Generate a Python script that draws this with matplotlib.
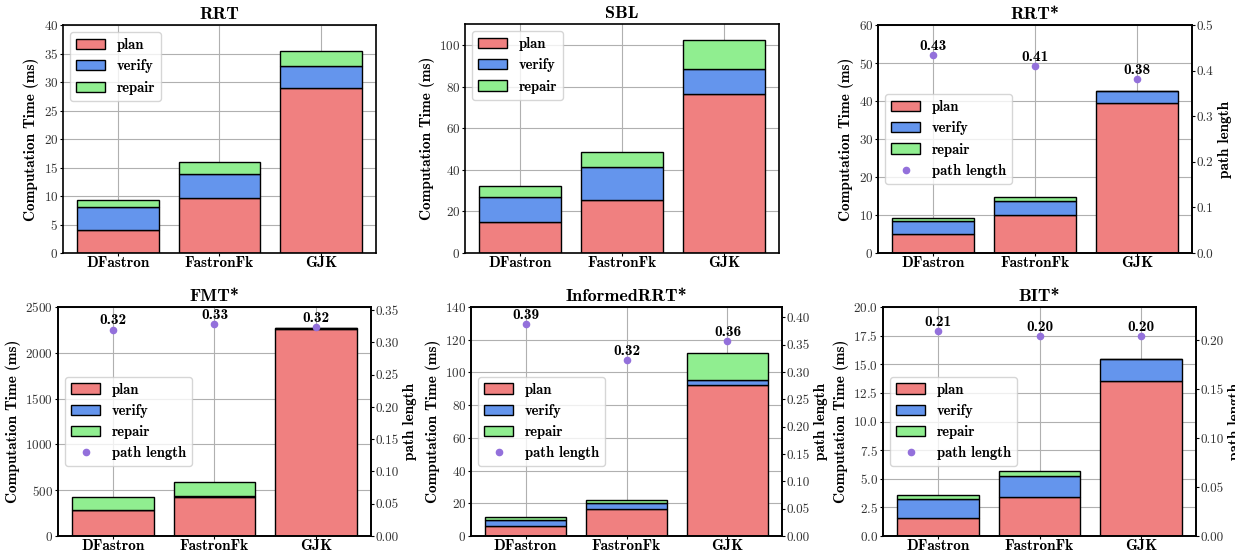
import numpy as np
import matplotlib.pyplot as plt
from matplotlib.patches import Patch
from matplotlib.lines import Line2D

plt.rcParams['font.family'] = 'cmr10'
plt.rcParams['axes.formatter.use_mathtext'] = True
plt.rcParams['axes.linewidth'] = 1.2
plt.rcParams['xtick.major.size'] = 2
plt.rcParams['ytick.major.size'] = 2
plt.rcParams['xtick.major.pad'] = 0.5
plt.rcParams['ytick.major.pad'] = 1.5
BOLD = 'cmb10'

methods = ['DFastron', 'FastronFk', 'GJK']
planners = ['RRT', 'SBL', 'RRT*', 'FMT*', 'InformedRRT*', 'BIT*']

# stacked times (ms) per method: DFastron, FastronFk, GJK
rrt_plan = [3.97, 9.64, 28.96]
rrt_verify = [4.09, 4.20, 3.80]
rrt_repair = [1.17, 2.04, 2.63]

sbl_plan = [14.8, 25.6, 76.8]
sbl_verify = [12.4, 15.8, 11.8]
sbl_repair = [5.0, 7.4, 13.8]

rrtstar_plan = [5.0, 10.1, 39.4]
rrtstar_verify = [3.43, 3.6, 3.2]
rrtstar_repair = [0.79, 0.97, 0.05]
rrtstar_path = [0.434, 0.411, 0.381]

fmt_plan = [285, 428, 2262]
fmt_verify = [4, 4, 5]
fmt_repair = [137, 158, 2]
fmt_path = [0.320, 0.328, 0.324]

informed_plan = [6.3, 16.7, 92.2]
informed_verify = [3.3, 3.3, 2.9]
informed_repair = [1.8, 1.8, 16.9]
informed_path = [0.387, 0.322, 0.356]

bit_plan = [1.60, 3.44, 13.53]
bit_verify = [1.64, 1.81, 1.92]
bit_repair = [0.35, 0.41, 0.0]
bit_path = [0.209, 0.204, 0.204]

data = {
    'RRT': (rrt_plan, rrt_verify, rrt_repair, None),
    'SBL': (sbl_plan, sbl_verify, sbl_repair, None),
    'RRT*': (rrtstar_plan, rrtstar_verify, rrtstar_repair, rrtstar_path),
    'FMT*': (fmt_plan, fmt_verify, fmt_repair, fmt_path),
    'InformedRRT*': (informed_plan, informed_verify, informed_repair, informed_path),
    'BIT*': (bit_plan, bit_verify, bit_repair, bit_path),
}

# axes rects in pixels (left, top, right, bottom), left/right y-limits and tick steps
W, H = 1235, 551
layout = {
    'RRT': ((63, 25, 376, 253), (0, 40, 5), None),
    'SBL': ((465, 24, 779, 253), (0, 110.3, 20), None),
    'RRT*': ((878, 25, 1192, 253), (0, 60, 10), (0, 0.5, 0.1)),
    'FMT*': ((58, 307, 371, 536), (0, 2500, 500), (0, 0.355, 0.05)),
    'InformedRRT*': ((471, 307, 782, 536), (0, 140, 20), (0, 0.419, 0.05)),
    'BIT*': ((883, 307, 1196, 536), (0, 20, 2.5), (0, 0.234, 0.05)),
}

colors = {'plan': '#F08080', 'verify': '#6495ED', 'repair': '#90EE90'}
point_color = '#9370DB'
tick_gray = '#333333'

fig = plt.figure(figsize=(W / 100, H / 100), dpi=100)

for name in planners:
    plan, verify, repair, path = data[name]
    (l, t, r, b), ylim_l, ylim_r = layout[name]
    ax = fig.add_axes([l / W, 1 - b / H, (r - l) / W, (b - t) / H])
    x = np.arange(len(methods))
    plan = np.array(plan, float)
    verify = np.array(verify, float)
    repair = np.array(repair, float)
    kw = dict(width=0.8, edgecolor='black', linewidth=1.0)
    ax.bar(x, plan, color=colors['plan'], **kw)
    ax.bar(x, verify, bottom=plan, color=colors['verify'], **kw)
    ax.bar(x, repair, bottom=plan + verify, color=colors['repair'], **kw)
    ax.set_axisbelow(True)
    ax.grid(True, color='#b0b0b0', linewidth=0.8)
    ax.set_xticks(x)
    ax.set_xticklabels(methods, fontfamily=BOLD, fontsize=11)
    ax.set_ylim(ylim_l[0], ylim_l[1])
    ax.set_yticks(np.arange(ylim_l[0], ylim_l[1] + 1e-9, ylim_l[2]))
    ax.tick_params(axis='y', labelsize=9.5, labelcolor=tick_gray)
    ax.set_ylabel('Computation Time (ms)', fontfamily=BOLD, fontsize=11, labelpad=3)
    ax.set_title(name, fontfamily=BOLD, fontsize=13, pad=4)

    handles = [Patch(facecolor=colors[k], edgecolor='black', label=k)
               for k in ['plan', 'verify', 'repair']]
    legend_ax = ax
    loc = 'upper left'
    if path is not None:
        ax2 = ax.twinx()
        ax2.scatter(x, path, color=point_color, s=20, zorder=3)
        for xi, p in zip(x, path):
            ax2.annotate(f'{p:.2f}', (xi, p), xytext=(0, 1.5), textcoords='offset points',
                         ha='center', va='bottom', fontfamily=BOLD, fontsize=11)
        ax2.set_ylim(ylim_r[0], ylim_r[1])
        ax2.set_yticks(np.arange(ylim_r[0], ylim_r[1] + 1e-9, ylim_r[2]))
        if ylim_r[2] < 0.1:
            ax2.yaxis.set_major_formatter(plt.FormatStrFormatter('%.2f'))
        else:
            ax2.yaxis.set_major_formatter(plt.FormatStrFormatter('%.1f'))
        ax2.tick_params(axis='y', labelsize=9.5, labelcolor=tick_gray)
        ax2.set_ylabel('path length', fontfamily=BOLD, fontsize=11, labelpad=3)
        handles.append(Line2D([], [], marker='o', linestyle='none', color=point_color,
                              markersize=4.5, label='path length'))
        legend_ax = ax2
        loc = 'center left'
    legend_ax.legend(handles=handles, loc=loc, prop={'family': BOLD, 'size': 10.5})

fig.savefig('out.png', dpi=100)
